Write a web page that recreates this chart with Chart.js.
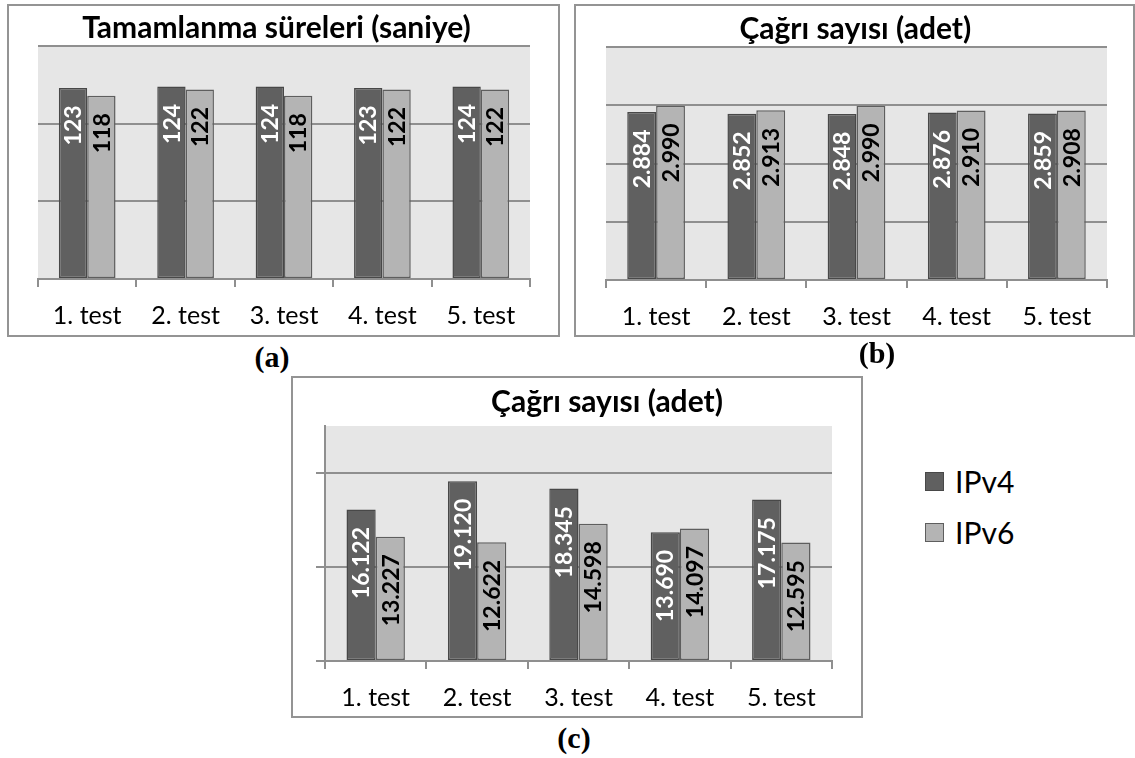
<!DOCTYPE html>
<html lang="tr">
<head>
<meta charset="utf-8">
<title>IPv4 / IPv6 test sonuçları</title>
<script src="https://cdn.jsdelivr.net/npm/chart.js@4.4.1/dist/chart.umd.min.js"></script>
<style>
  html, body { margin: 0; padding: 0; background: #fff; }
  body { position: relative; width: 1135px; height: 758px; overflow: hidden; font-family: Lato, "Open Sans", sans-serif; }
  .panel { position: absolute; box-sizing: border-box; border: 2px solid #949494; }
  .panel canvas { position: absolute; left: -2px; top: -2px; }
  .caption { position: absolute; width: 80px; margin-left: -40px; text-align: center;
             font: bold 30px/30px "Liberation Serif", "Times New Roman", serif; color: #000; }
  .legend-box { position: absolute; width: 19px; height: 19px; box-sizing: border-box; border: 1.5px solid; }
  .legend-text { position: absolute; font: 30px/30px Lato, sans-serif; color: #000; white-space: nowrap; }
</style>
</head>
<body>

<div class="panel" style="left:7px; top:4px; width:553px; height:333px;">
  <canvas id="chartA" width="553" height="333"></canvas>
</div>
<div class="panel" style="left:574px; top:4px; width:561px; height:333px;">
  <canvas id="chartB" width="561" height="333"></canvas>
</div>
<div class="panel" style="left:291px; top:376px; width:572px; height:342px;">
  <canvas id="chartC" width="572" height="342"></canvas>
</div>

<div class="caption" style="left:272px; top:342px;">(a)</div>
<div class="caption" style="left:877px; top:338px;">(b)</div>
<div class="caption" style="left:574px; top:723px;">(c)</div>

<div id="legend"></div>

<script>
// ---- data ----
const categories = ['1. test', '2. test', '3. test', '4. test', '5. test'];
const seriesNames = ['IPv4', 'IPv6'];

const titleA = 'Tamamlanma süreleri (saniye)';
const durationIPv4 = [123, 124, 124, 123, 124];
const durationIPv6 = [118, 122, 118, 122, 122];
const ticksA = [0, 50, 100, 150];

const titleB = 'Çağrı sayısı (adet)';
const callsB_IPv4 = [2884, 2852, 2848, 2876, 2859];
const callsB_IPv6 = [2990, 2913, 2990, 2910, 2908];
const ticksB = [0, 1000, 2000, 3000, 4000];

const titleC = 'Çağrı sayısı (adet)';
const callsC_IPv4 = [16122, 19120, 18345, 13690, 17175];
const callsC_IPv6 = [13227, 12622, 14598, 14097, 12595];
const ticksC = [0, 10000, 20000];
const maxC = 25000;

// ---- styling ----
const DARK = '#606060', DARK_EDGE = '#484848';
const LIGHT = '#b4b4b4', LIGHT_EDGE = '#5e5e5e';
const GRID = '#8f8f8f';
const PLOT_BG = '#e6e6e6';

// Turkish thousands separator: 2884 -> "2.884"
function fmt(v) {
  return String(v).replace(/\B(?=(\d{3})+(?!\d))/g, '.');
}

// grey fill behind the plotting area
const plotBackground = {
  id: 'plotBackground',
  beforeDraw(chart) {
    const { ctx, chartArea: a } = chart;
    ctx.save();
    ctx.fillStyle = PLOT_BG;
    ctx.fillRect(a.left, a.top, a.right - a.left, a.bottom - a.top);
    ctx.restore();
  }
};

// chart heading placed at a given centre point
const heading = {
  id: 'heading',
  afterDraw(chart, args, opts) {
    if (!opts.text) return;
    const ctx = chart.ctx;
    ctx.save();
    ctx.font = 'bold 30px Lato, "Open Sans", sans-serif';
    ctx.fillStyle = '#000';
    ctx.textAlign = 'center';
    ctx.textBaseline = 'alphabetic';
    ctx.fillText(opts.text, opts.x, opts.y);
    ctx.restore();
  }
};

// vertical value labels just inside the top of every bar
const valueLabels = {
  id: 'valueLabels',
  afterDatasetsDraw(chart, args, opts) {
    const ctx = chart.ctx;
    ctx.save();
    ctx.font = 'bold 23px Lato, "Open Sans", sans-serif';
    chart.data.datasets.forEach((ds, i) => {
      const meta = chart.getDatasetMeta(i);
      meta.data.forEach((bar, j) => {
        ctx.save();
        ctx.translate(bar.x, bar.y + opts.gap);
        ctx.rotate(-Math.PI / 2);
        ctx.textAlign = 'right';
        ctx.textBaseline = 'alphabetic';
        ctx.fillStyle = ds.labelColor;
        ctx.fillText(fmt(ds.data[j]), 0, opts.capHalf);
        ctx.restore();
      });
    });
    ctx.restore();
  }
};

function makeChart(id, cfg) {
  return new Chart(document.getElementById(id), {
    type: 'bar',
    data: {
      labels: categories,
      datasets: [
        { label: seriesNames[0], data: cfg.v4, backgroundColor: DARK, borderColor: DARK_EDGE,
          borderWidth: 1.5, borderSkipped: false, labelColor: '#ffffff' },
        { label: seriesNames[1], data: cfg.v6, backgroundColor: LIGHT, borderColor: LIGHT_EDGE,
          borderWidth: 1.5, borderSkipped: false, labelColor: '#000000' }
      ]
    },
    options: {
      responsive: false,
      animation: false,
      devicePixelRatio: 1,
      datasets: { bar: { categoryPercentage: 0.576, barPercentage: 1 } },
      layout: { padding: cfg.padding },
      plugins: {
        legend: { display: false },
        tooltip: { enabled: false },
        heading: cfg.heading,
        valueLabels: { gap: 17.5, capHalf: 8.2 }
      },
      scales: {
        x: {
          grid: { display: true, offset: true, drawOnChartArea: false, drawTicks: true,
                  tickLength: 8, color: GRID, lineWidth: 2 },
          border: { display: true, color: GRID, width: 2 },
          ticks: { color: '#000', font: { family: 'Lato', size: 25 }, padding: 14,
                   maxRotation: 0, autoSkip: false },
          afterFit(s) { s.height = cfg.xHeight; }
        },
        y: {
          min: 0,
          max: cfg.max,
          afterBuildTicks(s) { s.ticks = cfg.ticks.map(v => ({ value: v })); },
          grid: { color: GRID, lineWidth: 2, drawTicks: cfg.yAxisLine, tickLength: 9 },
          border: { display: cfg.yAxisLine, color: GRID, width: 2 },
          ticks: { display: false },
          afterFit(s) { s.width = 0; }
        }
      }
    },
    plugins: [plotBackground, heading, valueLabels]
  });
}

makeChart('chartA', {
  v4: durationIPv4, v6: durationIPv6, ticks: ticksA, max: ticksA[ticksA.length - 1],
  padding: { left: 31, top: 42, right: 30, bottom: 0 }, xHeight: 58, yAxisLine: false,
  heading: { text: titleA, x: 269.5, y: 33.5 }
});

makeChart('chartB', {
  v4: callsB_IPv4, v6: callsB_IPv6, ticks: ticksB, max: ticksB[ticksB.length - 1],
  padding: { left: 32, top: 43, right: 28, bottom: 0 }, xHeight: 57, yAxisLine: false,
  heading: { text: titleB, x: 281.3, y: 34.5 }
});

makeChart('chartC', {
  v4: callsC_IPv4, v6: callsC_IPv6, ticks: ticksC, max: maxC,
  padding: { left: 34, top: 50, right: 31, bottom: 0 }, xHeight: 57, yAxisLine: true,
  heading: { text: titleC, x: 316, y: 35.7 }
});

// legend entries for the two series
const legendFill = [DARK, LIGHT];
const legendEdge = [DARK_EDGE, LIGHT_EDGE];
const legend = document.getElementById('legend');
seriesNames.forEach((name, i) => {
  const top = 466 + i * 50.5;
  const box = document.createElement('div');
  box.className = 'legend-box';
  box.style.left = '925px';
  box.style.top = (top + 6) + 'px';
  box.style.background = legendFill[i];
  box.style.borderColor = legendEdge[i];
  legend.appendChild(box);
  const txt = document.createElement('div');
  txt.className = 'legend-text';
  txt.style.left = '955px';
  txt.style.top = top + 'px';
  txt.textContent = name;
  legend.appendChild(txt);
});
</script>
</body>
</html>
